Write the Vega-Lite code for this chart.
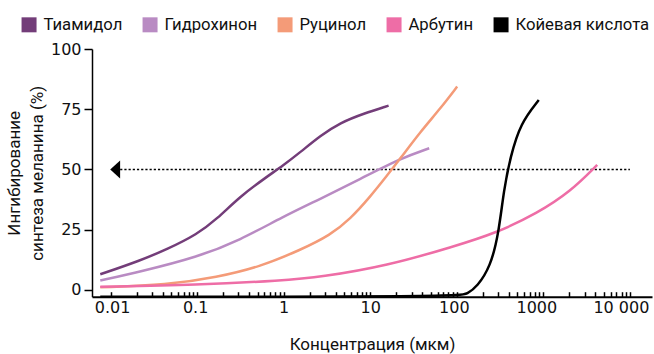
{
  "$schema": "https://vega.github.io/schema/vega-lite/v6.json",
  "width": 560,
  "height": 247.7,
  "autosize": {"type": "none"},
  "padding": {"left": 92, "top": 49, "right": 2, "bottom": 57.3},
  "config": {
    "view": {"stroke": null},
    "font": "Roboto",
    "axis": {"labelColor": "#111", "titleColor": "#111", "domainColor": "#000", "tickColor": "#000", "grid": false, "labelFont": "DejaVu Sans"}
  },
  "datasets": {
    "curves": [
      {"compound": "Тиамидол", "conc": 0.0076, "value": 6.5},
      {"compound": "Тиамидол", "conc": 0.022, "value": 12.2},
      {"compound": "Тиамидол", "conc": 0.045, "value": 16.9},
      {"compound": "Тиамидол", "conc": 0.1, "value": 23.1},
      {"compound": "Тиамидол", "conc": 0.17, "value": 29.5},
      {"compound": "Тиамидол", "conc": 0.315, "value": 38.9},
      {"compound": "Тиамидол", "conc": 0.64, "value": 47.0},
      {"compound": "Тиамидол", "conc": 0.98, "value": 51.6},
      {"compound": "Тиамидол", "conc": 1.56, "value": 57.2},
      {"compound": "Тиамидол", "conc": 2.65, "value": 64.0},
      {"compound": "Тиамидол", "conc": 4.5, "value": 69.4},
      {"compound": "Тиамидол", "conc": 8.4, "value": 73.2},
      {"compound": "Тиамидол", "conc": 16.3, "value": 76.5},

      {"compound": "Гидрохинон", "conc": 0.0076, "value": 3.9},
      {"compound": "Гидрохинон", "conc": 0.022, "value": 7.6},
      {"compound": "Гидрохинон", "conc": 0.1, "value": 13.6},
      {"compound": "Гидрохинон", "conc": 0.315, "value": 20.7},
      {"compound": "Гидрохинон", "conc": 0.98, "value": 30.4},
      {"compound": "Гидрохинон", "conc": 2.65, "value": 37.8},
      {"compound": "Гидрохинон", "conc": 7.7, "value": 46.1},
      {"compound": "Гидрохинон", "conc": 22.3, "value": 54.6},
      {"compound": "Гидрохинон", "conc": 48, "value": 58.8},

      {"compound": "Руцинол", "conc": 0.0076, "value": 1.1},
      {"compound": "Руцинол", "conc": 0.045, "value": 2.1},
      {"compound": "Руцинол", "conc": 0.17, "value": 5.3},
      {"compound": "Руцинол", "conc": 0.54, "value": 9.7},
      {"compound": "Руцинол", "conc": 1.56, "value": 16.6},
      {"compound": "Руцинол", "conc": 3.46, "value": 22.8},
      {"compound": "Руцинол", "conc": 5.9, "value": 29.5},
      {"compound": "Руцинол", "conc": 10, "value": 38.7},
      {"compound": "Руцинол", "conc": 15.6, "value": 47.4},
      {"compound": "Руцинол", "conc": 22.3, "value": 54.6},
      {"compound": "Руцинол", "conc": 38, "value": 65.7},
      {"compound": "Руцинол", "conc": 65, "value": 75.4},
      {"compound": "Руцинол", "conc": 101, "value": 84.4},

      {"compound": "Арбутин", "conc": 0.0076, "value": 1.3},
      {"compound": "Арбутин", "conc": 0.1, "value": 2.1},
      {"compound": "Арбутин", "conc": 0.98, "value": 3.9},
      {"compound": "Арбутин", "conc": 2.65, "value": 5.3},
      {"compound": "Арбутин", "conc": 15.6, "value": 10.0},
      {"compound": "Арбутин", "conc": 92, "value": 18.0},
      {"compound": "Арбутин", "conc": 292, "value": 23.8},
      {"compound": "Арбутин", "conc": 847, "value": 31.8},
      {"compound": "Арбутин", "conc": 2057, "value": 40.8},
      {"compound": "Арбутин", "conc": 4188, "value": 51.9},

      {"compound": "Койевая кислота", "conc": 0.0076, "value": -2.8},
      {"compound": "Койевая кислота", "conc": 105, "value": -2.8},
      {"compound": "Койевая кислота", "conc": 132, "value": -1.6},
      {"compound": "Койевая кислота", "conc": 172, "value": 1.4},
      {"compound": "Койевая кислота", "conc": 245, "value": 9.7},
      {"compound": "Койевая кислота", "conc": 305, "value": 23.5},
      {"compound": "Койевая кислота", "conc": 349, "value": 41.5},
      {"compound": "Койевая кислота", "conc": 417, "value": 55.3},
      {"compound": "Койевая кислота", "conc": 544, "value": 69.2},
      {"compound": "Койевая кислота", "conc": 885, "value": 78.8}
    ],
    "halfline": [
      {"conc": 0.0129, "value": 50},
      {"conc": 10000, "value": 50}
    ],
    "arrow": [
      {"conc": 0.0113, "value": 50}
    ]
  },
  "encoding": {
    "x": {
      "field": "conc",
      "type": "quantitative",
      "scale": {"type": "log", "domain": [0.0061, 18000], "nice": false},
      "axis": {
        "title": "Концентрация (мкм)",
        "titleFontSize": 17,
        "titleFontWeight": "normal",
        "titlePadding": 21,
        "values": [0.01, 0.02, 0.03, 0.04, 0.05, 0.06, 0.07, 0.08, 0.09,
                   0.1, 0.2, 0.3, 0.4, 0.5, 0.6, 0.7, 0.8, 0.9,
                   1, 2, 3, 4, 5, 6, 7, 8, 9,
                   10, 20, 30, 40, 50, 60, 70, 80, 90,
                   100, 200, 300, 400, 500, 600, 700, 800, 900,
                   1000, 2000, 3000, 4000, 5000, 6000, 7000, 8000, 9000, 10000],
        "labelExpr": "indexof([0.01, 0.1, 1, 10, 100, 1000], datum.value) >= 0 ? format(datum.value, '~g') : (datum.value == 10000 ? '10 000' : '')",
        "labelOffset": {
          "condition": [
            {"test": "datum.value == 10000", "value": -9},
            {"test": "datum.value == 1000", "value": -7},
            {"test": "datum.value == 100", "value": -3},
            {"test": "datum.value == 0.1", "value": -2},
            {"test": "datum.value == 0.01", "value": 1.5}
          ],
          "value": 0
        },
        "labelOverlap": false,
        "labelFlush": false,
        "labelBound": false,
        "labelFontSize": 16,
        "labelPadding": 8,
        "tickSize": -5,
        "tickWidth": 1.5,
        "domainWidth": 2
      }
    },
    "y": {
      "field": "value",
      "type": "quantitative",
      "scale": {"domain": [-2.8, 100], "nice": false, "zero": false},
      "axis": {
        "title": ["Ингибирование", "синтеза меланина (%)"],
        "titleFontSize": 17,
        "titleFontWeight": "normal",
        "titleLineHeight": 23,
        "titlePadding": 4,
        "values": [0, 25, 50, 75, 100],
        "labelFontSize": 16,
        "labelPadding": 3,
        "tickSize": 8,
        "tickWidth": 1.5,
        "domainWidth": 1.5
      }
    }
  },
  "layer": [
    {
      "data": {"name": "halfline"},
      "mark": {"type": "line", "color": "#000", "strokeWidth": 1.3, "strokeDash": [2.2, 2]}
    },
    {
      "data": {"name": "arrow"},
      "mark": {"type": "point", "shape": "M 0.55,-1 L -0.55,0 L 0.55,1 Z", "size": 324, "filled": true, "color": "#000", "opacity": 1}
    },
    {
      "data": {"name": "curves"},
      "mark": {"type": "line", "strokeWidth": 2.5, "interpolate": "basis"},
      "encoding": {
        "color": {
          "field": "compound",
          "type": "nominal",
          "scale": {
            "domain": ["Тиамидол", "Гидрохинон", "Руцинол", "Арбутин", "Койевая кислота"],
            "range": ["#733D79", "#B98BC3", "#F49B78", "#EE6DA6", "#000000"]
          },
          "legend": {
            "title": null,
            "orient": "none",
            "direction": "horizontal",
            "legendX": -71.3,
            "legendY": -33,
            "symbolType": "square",
            "symbolSize": 225,
            "symbolStrokeWidth": 0,
            "symbolOpacity": 1,
            "labelFontSize": 16.7,
            "labelColor": "#111",
            "labelOffset": 6,
            "columnPadding": 19,
            "padding": 0,
            "labelLimit": 300,
            "encode": {
              "symbols": {
                "update": {
                  "fill": {"scale": "color", "field": "value"},
                  "fillOpacity": {"value": 1}
                }
              }
            }
          }
        },
        "order": {"field": "conc", "type": "quantitative"}
      }
    }
  ]
}
